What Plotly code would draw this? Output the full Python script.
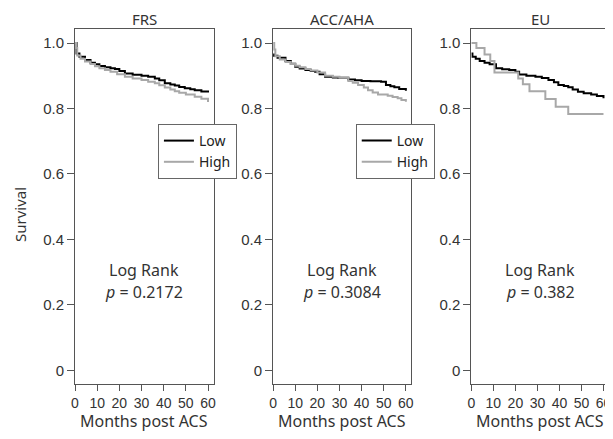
import plotly.graph_objects as go

panel_titles = ["FRS", "ACC/AHA", "EU"]
p_values = ["0.2172", "0.3084", "0.382"]

frs_low_t = [0, 0.7, 2, 4.5, 7, 9, 11, 13.5, 16, 18, 20, 22.5, 26, 30, 33, 36, 38, 40.5, 43, 45, 47, 49.5, 52, 54, 57, 60]
frs_low_s = [1.0, 0.968, 0.958, 0.948, 0.94, 0.935, 0.93, 0.926, 0.923, 0.921, 0.915, 0.907, 0.903, 0.9, 0.897, 0.892, 0.886, 0.877, 0.873, 0.87, 0.866, 0.862, 0.859, 0.856, 0.852, 0.849]
frs_high_t = [0, 0.5, 1, 2.5, 4.5, 7, 9, 11, 13.5, 16, 19, 22.5, 26, 30, 33, 36, 38, 40.5, 43, 45, 47, 50, 54, 57, 60]
frs_high_s = [1.0, 0.985, 0.962, 0.952, 0.944, 0.936, 0.929, 0.923, 0.918, 0.912, 0.905, 0.897, 0.892, 0.887, 0.882, 0.877, 0.871, 0.864, 0.858, 0.853, 0.848, 0.843, 0.836, 0.83, 0.82]

acc_low_t = [0, 0.4, 2, 5.6, 8, 10, 12, 14.6, 17, 19, 21, 23.5, 27, 29.5, 34, 37, 40, 44, 48.8, 51, 53, 54.8, 57, 60]
acc_low_s = [0.965, 0.961, 0.955, 0.945, 0.937, 0.928, 0.922, 0.918, 0.915, 0.912, 0.905, 0.897, 0.895, 0.894, 0.889, 0.886, 0.884, 0.883, 0.882, 0.872, 0.868, 0.865, 0.86, 0.854]
acc_high_t = [0, 0.5, 1, 3, 5.6, 8, 10, 12, 14.6, 17, 20, 23.5, 27, 30, 34, 36, 38.4, 41, 42.9, 45, 47.4, 51.8, 54, 56.3, 58, 60]
acc_high_s = [1.0, 0.98, 0.96, 0.95, 0.942, 0.936, 0.931, 0.926, 0.921, 0.916, 0.91, 0.9, 0.897, 0.894, 0.884, 0.879, 0.872, 0.864, 0.856, 0.849, 0.843, 0.839, 0.835, 0.831, 0.826, 0.821]

eu_low_t = [0, 0.5, 2, 3.8, 6, 8.3, 11.2, 14, 17.2, 20, 21.7, 25, 29.1, 32, 35, 37.5, 39.5, 42, 44, 46, 48.4, 51, 54.4, 57, 60]
eu_low_s = [0.968, 0.958, 0.952, 0.945, 0.94, 0.935, 0.923, 0.92, 0.918, 0.912, 0.904, 0.9, 0.897, 0.893, 0.887, 0.88, 0.872, 0.869, 0.865, 0.858, 0.851, 0.847, 0.843, 0.838, 0.831]
eu_high_t = [0, 2.3, 6.0, 8.6, 10.5, 21.3, 23.4, 26.4, 33.6, 38.3, 44.0, 60]
eu_high_s = [1.0, 0.985, 0.965, 0.945, 0.91, 0.892, 0.874, 0.853, 0.829, 0.805, 0.783, 0.783]

series = [
    (frs_low_t, frs_low_s, frs_high_t, frs_high_s),
    (acc_low_t, acc_low_s, acc_high_t, acc_high_s),
    (eu_low_t, eu_low_s, eu_high_t, eu_high_s),
]

OFF = 8  # page body margin
W, H = 613 - OFF, 439 - OFF
# plot area in reference (window) pixels
PX0, PX1, PY0, PY1 = 75, 609.5, 29, 384
L, T = PX0 - OFF, PY0 - OFF
R, B = W - (PX1 - OFF), H - (PY1 - OFF)
pw = PX1 - PX0
ph = PY1 - PY0
px_domains = [(75, 213.7), (273.3, 411.7), (471.7, 609.5)]
domains = [(max(0, (a - PX0) / pw), min(1, (b - PX0) / pw)) for a, b in px_domains]


def pxx(x):
    return (x - PX0) / pw


def pxy(y):
    return (PY1 - y) / ph


BLACK = "#000000"
GRAY = "#a8a8a8"
AX = "#555555"
TXT = "#333333"
TICKFONT = dict(family="Liberation Sans, Arial, sans-serif", size=14, color=TXT)
YTICKFONT = dict(family="Liberation Sans, Arial, sans-serif", size=15, color=TXT)
TEXTFONT = "Noto Sans, Open Sans, sans-serif"

fig = go.Figure()
legends = ["legend", "legend2", None]
for i, (lt, ls, ht, hs) in enumerate(series):
    xa = "x" if i == 0 else f"x{i+1}"
    ya = "y" if i == 0 else f"y{i+1}"
    leg = legends[i]
    fig.add_trace(go.Scatter(x=lt, y=ls, mode="lines", line=dict(color=BLACK, width=2, shape="hv"),
                             name="Low", xaxis=xa, yaxis=ya, showlegend=leg is not None,
                             legend=leg if leg else "legend"))
    fig.add_trace(go.Scatter(x=ht, y=hs, mode="lines", line=dict(color=GRAY, width=2, shape="hv"),
                             name="High", xaxis=xa, yaxis=ya, showlegend=leg is not None,
                             legend=leg if leg else "legend"))

layout = dict(
    width=W, height=H, margin=dict(l=L, r=R, t=T, b=B, autoexpand=False),
    paper_bgcolor="white", plot_bgcolor="white",
    showlegend=True,
)
for i in range(3):
    xk = "xaxis" if i == 0 else f"xaxis{i+1}"
    yk = "yaxis" if i == 0 else f"yaxis{i+1}"
    ya = "y" if i == 0 else f"y{i+1}"
    xa = "x" if i == 0 else f"x{i+1}"
    layout[xk] = dict(domain=list(domains[i]), anchor=ya, range=[0, 62.5],
                      tickvals=[0, 10, 20, 30, 40, 50, 60], ticks="outside", ticklen=6,
                      tickcolor=AX, showline=True, linecolor=AX, linewidth=1, mirror=True,
                      showgrid=False, zeroline=False, tickfont=TICKFONT)
    layout[yk] = dict(domain=[0, 1], anchor=xa, range=[-0.042, 1.043],
                      tickvals=[0, 0.2, 0.4, 0.6, 0.8, 1.0],
                      ticktext=["0", "0.2", "0.4", "0.6", "0.8", "1.0"],
                      ticks="outside", ticklen=7, tickcolor=AX, showline=True,
                      linecolor=AX, linewidth=1, mirror=True, showgrid=False,
                      zeroline=False, tickfont=YTICKFONT)

leg_common = dict(bgcolor="white", bordercolor="#666666", borderwidth=1,
                  font=dict(family=TEXTFONT, size=14, color="#222222"),
                  xanchor="left", yanchor="top", itemwidth=30, tracegroupgap=0,
                  itemclick=False)
layout["legend"] = dict(x=pxx(158), y=pxy(124), **leg_common)
layout["legend2"] = dict(x=pxx(356), y=pxy(124), **leg_common)

fig.update_layout(**layout)

anns = []
for i in range(3):
    xd = "x domain" if i == 0 else f"x{i+1} domain"
    ya = "y" if i == 0 else f"y{i+1}"
    anns.append(dict(text=panel_titles[i], xref=xd, x=0.5, yref="paper", y=pxy(OFF),
                     showarrow=False, yanchor="top", borderpad=0,
                     font=dict(family=TEXTFONT, size=15, color=TXT)))
    anns.append(dict(text="Log Rank", xref=xd, x=0.5, yref=ya, y=0.307,
                     showarrow=False, yanchor="middle", font=dict(family=TEXTFONT, size=16, color=TXT)))
    anns.append(dict(text="<i>p</i> = " + p_values[i], xref=xd, x=0.5, yref=ya, y=0.24,
                     showarrow=False, yanchor="middle", font=dict(family=TEXTFONT, size=16, color=TXT)))
    anns.append(dict(text="Months post ACS", xref=xd, x=0.5, yref="paper", y=pxy(421),
                     showarrow=False, yanchor="middle", font=dict(family=TEXTFONT, size=16, color=TXT)))
anns.append(dict(text="Survival", xref="paper", x=pxx(20), yref="paper", y=pxy(215),
                 showarrow=False, textangle=-90, xanchor="center", yanchor="middle",
                 font=dict(family=TEXTFONT, size=15, color=TXT)))
fig.update_layout(annotations=anns)

fig.write_html("out.html")
